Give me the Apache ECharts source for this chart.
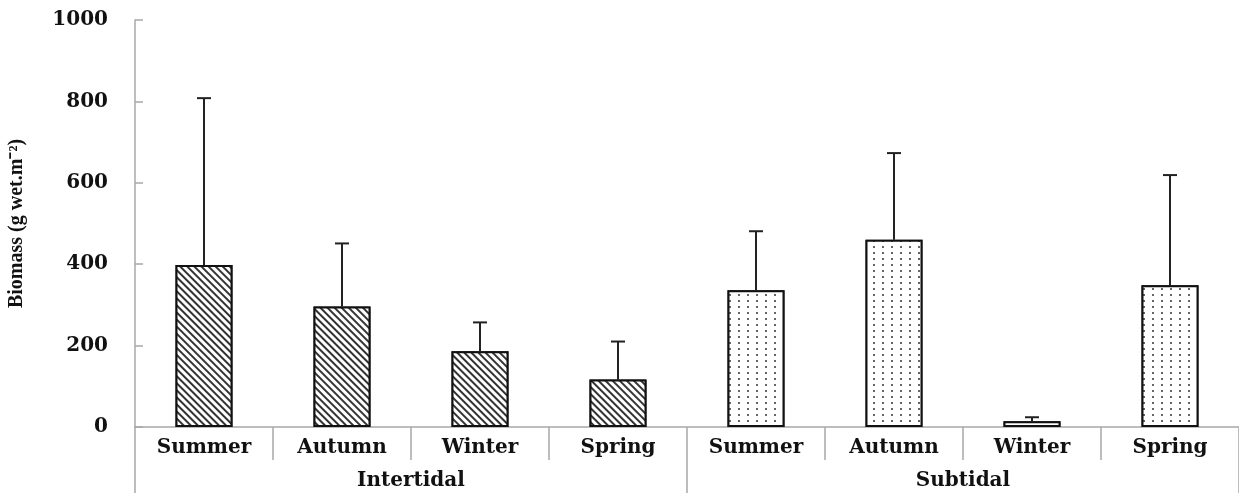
<!DOCTYPE html>
<html>
<head>
<meta charset="utf-8">
<script src="https://cdn.jsdelivr.net/npm/echarts@6/dist/echarts.min.js"></script>
<style>
  html, body { margin: 0; padding: 0; background: #ffffff; }
  #main { width: 1239px; height: 493px; }
</style>
</head>
<body>
<div id="main"></div>
<script>
// seasons on the lower axis, zones on the second level
var seasons = ['Summer', 'Autumn', 'Winter', 'Spring', 'Summer', 'Autumn', 'Winter', 'Spring'];
var zones = ['Intertidal', 'Subtidal'];
// zone of each bar (0 = intertidal, 1 = subtidal)
var zoneOfBar = [0, 0, 0, 0, 1, 1, 1, 1];
// mean biomass and top of the error bar (g wet.m-2)
var meanBiomass = [398, 296, 186, 117, 336, 460, 14, 348];
var upperBiomass = [808, 451, 257, 210, 481, 673, 24, 619];
var yTicks = [0, 200, 400, 600, 800, 1000];

var chart = echarts.init(document.getElementById('main'));

var axisGrey = '#a8a8a8';
var labelFont = 'DejaVu Serif';

// hatch for intertidal, dots for subtidal
var hatchDecal = {
  symbol: 'rect',
  symbolSize: 1,
  color: '#333',
  backgroundColor: '#ffffff',
  dashArrayX: [1, 0],
  dashArrayY: [1.2, 2.6],
  rotation: Math.PI / 4
};
var dotDecal = {
  symbol: 'rect',
  symbolSize: 1,
  color: '#666',
  backgroundColor: '#ffffff',
  dashArrayX: [1.4, 6.6],
  dashArrayY: [1.3, 3.2],
  rotation: 0
};

var barData = [];
for (var i = 0; i < meanBiomass.length; i++) {
  barData.push({
    value: meanBiomass[i],
    itemStyle: { decal: zoneOfBar[i] === 0 ? hatchDecal : dotDecal }
  });
}
var errData = [];
for (var i = 0; i < meanBiomass.length; i++) {
  errData.push([i, meanBiomass[i], upperBiomass[i]]);
}

var option = {
  animation: false,
  backgroundColor: '#ffffff',
  grid: { left: 135, right: 0, top: 20, bottom: 66, containLabel: false, outerBoundsMode: 'none' },
  xAxis: [
    {
      type: 'category',
      data: seasons,
      position: 'bottom',
      axisLine: { show: true, lineStyle: { color: axisGrey, width: 1.5 } },
      axisTick: { show: true, length: 33, lineStyle: { color: axisGrey, width: 1.5 } },
      axisLabel: {
        margin: 11,
        fontFamily: labelFont,
        fontWeight: 'bold',
        fontSize: 20,
        color: '#111'
      },
      splitLine: { show: false }
    },
    {
      type: 'category',
      data: zones,
      position: 'bottom',
      axisLine: { show: false },
      axisTick: { show: true, length: 66, lineStyle: { color: axisGrey, width: 1.5 } },
      axisLabel: {
        margin: 44,
        fontFamily: labelFont,
        fontWeight: 'bold',
        fontSize: 20,
        color: '#111'
      },
      splitLine: { show: false }
    }
  ],
  yAxis: {
    type: 'value',
    min: 0,
    max: 1000,
    interval: 200,
    name: 'Biomass (g wet.m\u207B\u00B2)',
    nameLocation: 'middle',
    nameRotate: 90,
    nameGap: 108,
    nameTextStyle: {
      fontFamily: 'Liberation Serif',
      fontWeight: 'bold',
      fontSize: 20,
      color: '#111'
    },
    axisLine: { show: true, lineStyle: { color: axisGrey, width: 1.5 } },
    axisTick: { show: true, inside: true, length: 8, lineStyle: { color: axisGrey, width: 1.5 } },
    axisLabel: {
      margin: 27,
      fontFamily: labelFont,
      fontWeight: 'bold',
      fontSize: 20,
      color: '#111',
      formatter: function (v) {
        return yTicks.indexOf(v) >= 0 ? String(v) : '';
      }
    },
    splitLine: { show: false }
  },
  series: [
    {
      type: 'bar',
      xAxisIndex: 0,
      barWidth: 57,
      data: barData,
      itemStyle: { color: '#ffffff', borderColor: '#111', borderWidth: 2 },
      z: 2
    },
    {
      type: 'custom',
      xAxisIndex: 0,
      data: errData,
      z: 3,
      renderItem: function (params, api) {
        var base = api.coord([api.value(0), api.value(1)]);
        var top = api.coord([api.value(0), api.value(2)]);
        var half = 7;
        var st = { stroke: '#222', lineWidth: 2 };
        return {
          type: 'group',
          children: [
            { type: 'line', shape: { x1: base[0], y1: base[1], x2: top[0], y2: top[1] }, style: st },
            { type: 'line', shape: { x1: top[0] - half, y1: top[1], x2: top[0] + half, y2: top[1] }, style: st }
          ]
        };
      }
    }
  ]
};

chart.setOption(option);
window.addEventListener('resize', function () {
  chart.resize();
});
</script>
</body>
</html>
